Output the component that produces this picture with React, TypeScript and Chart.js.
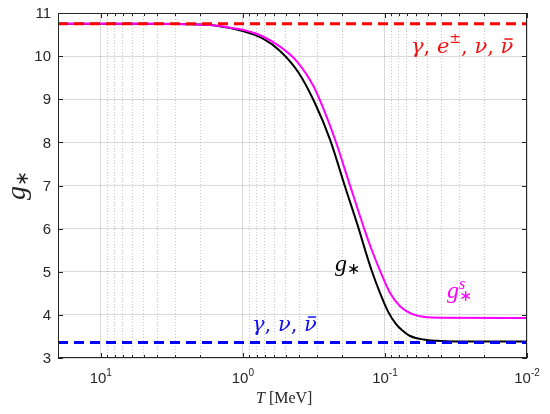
import { useEffect, useRef } from "react";
import { Chart, registerables } from "chart.js";

Chart.register(...registerables);

// temperatures in MeV (x) and g values
const tempGStar = [20, 10, 5, 2.5, 1.58, 1, 0.716, 0.547, 0.406, 0.313, 0.243, 0.192, 0.153, 0.138, 0.124, 0.108, 0.0948, 0.0832, 0.076, 0.0664, 0.0537, 0.0431, 0.0316, 0.01];
const gStar = [10.75, 10.75, 10.75, 10.74, 10.71, 10.58, 10.4, 10.12, 9.62, 8.93, 8.06, 7.0, 6.0, 5.51, 5.03, 4.5, 4.07, 3.78, 3.65, 3.51, 3.43, 3.4, 3.385, 3.38];

const tempGStarS = [20, 10, 5, 2.5, 1.58, 1.23, 1, 0.716, 0.547, 0.417, 0.318, 0.271, 0.224, 0.178, 0.14, 0.124, 0.105, 0.0918, 0.0782, 0.0632, 0.0521, 0.0398, 0.01];
const gStarS = [10.75, 10.75, 10.75, 10.74, 10.71, 10.66, 10.61, 10.45, 10.22, 9.88, 9.3, 8.78, 8.06, 7.05, 6.0, 5.51, 4.92, 4.5, 4.2, 4.01, 3.95, 3.935, 3.93];

const tempRange = [20, 0.01];
const gHigh = [10.75, 10.75]; // γ, e±, ν, ν̄
const gLow = [3.36, 3.36]; // γ, ν, ν̄

const decades = [-2, -1, 0, 1];
const multipliers = [1, 2, 3, 4, 5, 6, 7, 8, 9];
const majorExponents = [1, 0, -1, -2];
const yTicks = [3, 4, 5, 6, 7, 8, 9, 10, 11];

const AXIS = "#262626";
const SANS = "'Liberation Sans', Arial, sans-serif";
const SERIF = "'Liberation Serif', 'Times New Roman', serif";
const MATH = "'DejaVu Serif', serif";

const isMajor = (v: number) => Math.abs(Math.log10(v) - Math.round(Math.log10(v))) < 1e-6;

const toPoints = (xs: number[], ys: number[]) => xs.map((x, i) => ({ x, y: ys[i] }));

type Part = [string, string, number, boolean?];

// draws text pieces one after another: [text, font, dy, overbar]
function drawRun(ctx: CanvasRenderingContext2D, x: number, y: number, parts: Part[], color: string) {
  ctx.fillStyle = color;
  ctx.textAlign = "left";
  ctx.textBaseline = "alphabetic";
  let cx = x;
  for (const [t, f, dy, bar] of parts) {
    ctx.font = f;
    ctx.fillText(t, cx, y + dy);
    const w = ctx.measureText(t).width;
    if (bar) {
      const size = parseFloat(f.replace(/^[^0-9]*/, ""));
      ctx.fillRect(cx + w * 0.3, y + dy - size * 0.7, w * 0.65, Math.max(1.2, size * 0.07));
    }
    cx += w;
  }
  return cx;
}

const framePlugin = {
  id: "frame",
  afterDraw(chart: any) {
    const ctx: CanvasRenderingContext2D = chart.ctx;
    const { left, right, top, bottom } = chart.chartArea;
    const xs = chart.scales.x;
    const ys = chart.scales.y;
    ctx.save();
    ctx.strokeStyle = AXIS;
    ctx.lineWidth = 1;
    ctx.strokeRect(left + 0.5, top + 0.5, right - left - 1, bottom - top - 1);

    // inward ticks
    ctx.beginPath();
    for (const t of xs.ticks) {
      const px = Math.round(xs.getPixelForValue(t.value)) + 0.5;
      const len = isMajor(t.value) ? 5 : 3;
      ctx.moveTo(px, bottom);
      ctx.lineTo(px, bottom - len);
      ctx.moveTo(px, top);
      ctx.lineTo(px, top + len);
    }
    for (const v of yTicks) {
      const py = Math.round(ys.getPixelForValue(v)) + 0.5;
      ctx.moveTo(left, py);
      ctx.lineTo(left + 5, py);
      ctx.moveTo(right, py);
      ctx.lineTo(right - 5, py);
    }
    ctx.stroke();

    // y tick labels
    ctx.fillStyle = AXIS;
    ctx.font = `15px ${SANS}`;
    ctx.textAlign = "right";
    ctx.textBaseline = "middle";
    for (const v of yTicks) {
      ctx.fillText(String(v), left - 7, ys.getPixelForValue(v) + 1);
    }

    // x tick labels 10^n
    for (const e of majorExponents) {
      const px = xs.getPixelForValue(Math.pow(10, e));
      ctx.font = `15px ${SANS}`;
      const w1 = ctx.measureText("10").width;
      ctx.font = `10px ${SANS}`;
      const exp = e < 0 ? "-" + Math.abs(e) : String(e);
      const w2 = ctx.measureText(exp).width;
      const x0 = px - (w1 + w2) / 2;
      drawRun(ctx, x0, bottom + 25, [["10", `15px ${SANS}`, 0], [exp, `10px ${SANS}`, -7]], AXIS);
    }

    // x title
    drawRun(ctx, 256, 403, [["T", `italic 16px ${SERIF}`, 0], [" [MeV]", `16px ${SERIF}`, 0]], AXIS);

    // y title
    ctx.save();
    ctx.translate(25, 200);
    ctx.rotate(-Math.PI / 2);
    drawRun(ctx, 0, 0, [["g", `italic 28px ${SERIF}`, 0], ["\u2217", `18px ${SERIF}`, 3]], AXIS);
    ctx.restore();

    // annotations
    const it = `italic 21px ${MATH}`;
    const rm = `21px ${MATH}`;
    drawRun(
      ctx,
      411,
      53,
      [["\u03b3", it, 0], [", ", rm, 0], ["e", it, 0], ["\u00b1", `14px ${MATH}`, -10], [", ", rm, 0], ["\u03bd", it, 0], [", ", rm, 0], ["\u03bd", it, 0, true]],
      "#f01010"
    );
    drawRun(ctx, 252, 331, [["\u03b3", it, 0], [", ", rm, 0], ["\u03bd", it, 0], [", ", rm, 0], ["\u03bd", it, 0, true]], "#1010f0");
    drawRun(ctx, 335, 271, [["g", `italic 24px ${SERIF}`, 0], ["\u2217", `16px ${SERIF}`, 3]], "#000000");
    const gx = drawRun(ctx, 447, 298, [["g", `italic 24px ${SERIF}`, 0]], "#ff00ff");
    drawRun(ctx, gx, 289, [["s", `italic 16px ${SERIF}`, 0]], "#ff00ff");
    drawRun(ctx, gx, 301, [["\u2217", `16px ${SERIF}`, 0]], "#ff00ff");
    ctx.restore();
  },
};

export default function App() {
  const canvasRef = useRef<HTMLCanvasElement>(null);

  useEffect(() => {
    if (!canvasRef.current) return;
    const ctx = canvasRef.current.getContext("2d");
    if (!ctx) return;

    const chart = new Chart(ctx, {
      type: "line",
      data: {
        datasets: [
          {
            label: "γ, e±, ν, ν̄",
            data: toPoints(tempRange, gHigh),
            borderColor: "#ff0000",
            borderWidth: 3,
            borderDash: [10, 6],
            pointRadius: 0,
          },
          {
            label: "γ, ν, ν̄",
            data: toPoints(tempRange, gLow),
            borderColor: "#0000ff",
            borderWidth: 3,
            borderDash: [10, 6],
            pointRadius: 0,
          },
          {
            label: "g*s",
            data: toPoints(tempGStarS, gStarS),
            borderColor: "#ff00ff",
            borderWidth: 2,
            pointRadius: 0,
            cubicInterpolationMode: "monotone",
          },
          {
            label: "g*",
            data: toPoints(tempGStar, gStar),
            borderColor: "#000000",
            borderWidth: 2,
            pointRadius: 0,
            cubicInterpolationMode: "monotone",
          },
        ],
      },
      options: {
        responsive: false,
        animation: false,
        layout: { padding: { left: 58, right: 23, top: 13, bottom: 56 } },
        plugins: { legend: { display: false }, tooltip: { enabled: false } },
        scales: {
          x: {
            type: "logarithmic",
            min: 0.01,
            max: 20,
            reverse: true,
            afterBuildTicks: (scale: any) => {
              const vals: number[] = [];
              for (const d of decades) {
                for (const m of multipliers) {
                  const v = m * Math.pow(10, d);
                  if (v >= 0.01 - 1e-9 && v <= 20 + 1e-9) vals.push(v);
                }
              }
              vals.push(20);
              scale.ticks = vals.map((v) => ({ value: v }));
            },
            ticks: { display: false },
            grid: {
              drawTicks: false,
              color: (c: any) => (c.tick && isMajor(c.tick.value) ? "rgba(0,0,0,0.15)" : "rgba(0,0,0,0.22)"),
              lineWidth: 1,
            },
            border: {
              display: false,
              dash: (c: any) => (c.tick && !isMajor(c.tick.value) ? [1, 2] : []),
            },
          },
          y: {
            type: "linear",
            min: 3,
            max: 11,
            ticks: { display: false, stepSize: 1 },
            grid: { drawTicks: false, color: "rgba(0,0,0,0.15)", lineWidth: 1 },
            border: { display: false },
          },
        },
      },
      plugins: [framePlugin],
    });

    return () => {
      chart.destroy();
    };
  }, []);

  return (
    <div style={{ position: "fixed", left: 0, top: 0, width: 550, height: 414, background: "#fff" }}>
      <canvas ref={canvasRef} width={550} height={414} />
    </div>
  );
}
